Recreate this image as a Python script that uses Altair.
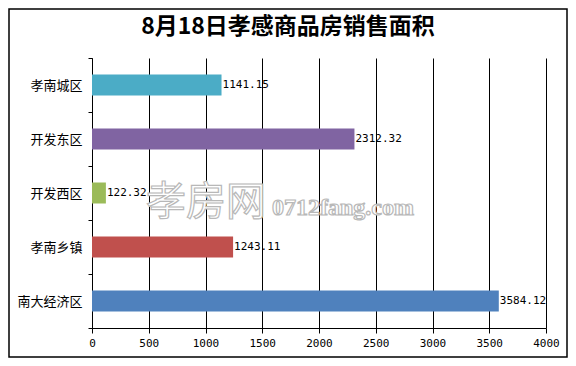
import altair as alt
import pandas as pd

categories = ["孝南城区", "开发东区", "开发西区", "孝南乡镇", "南大经济区"]
values = [1141.15, 2312.32, 122.32, 1243.11, 3584.12]
labels = ["1141.15", "2312.32", "122.32", "1243.11", "3584.12"]
colors = ["#4BACC6", "#8064A2", "#9BBB59", "#C0504D", "#4F81BD"]
x_ticks = [0, 500, 1000, 1500, 2000, 2500, 3000, 3500, 4000]
title_text = "8月18日孝感商品房销售面积"
watermark_cn = "孝房网"
watermark_en = "0712fang.com"

df = pd.DataFrame({"cat": categories, "val": values, "label": labels, "color": colors})

W, H = 454, 270
PL, PT, PR, PB = 84, 50, 22, 30

y_enc = alt.Y(
    "cat:N",
    sort=categories,
    title=None,
    scale=alt.Scale(paddingInner=0, paddingOuter=0),
    axis=alt.Axis(
        tickBand="extent",
        domainColor="black",
        tickColor="black",
        tickSize=4,
        labelFont="Noto Sans CJK SC",
        labelFontSize=13,
        labelColor="black",
        labelPadding=6,
        grid=False,
    ),
)
x_enc = alt.X(
    "val:Q",
    title=None,
    scale=alt.Scale(domain=[0, 4000], nice=False),
    axis=alt.Axis(
        values=x_ticks,
        format="d",
        labelFlush=False,
        labelOverlap=False,
        grid=True,
        gridColor="black",
        gridOpacity=1,
        domainColor="black",
        tickColor="black",
        tickSize=5,
        labelFont="DejaVu Sans Mono",
        labelFontSize=11,
        labelColor="black",
        labelPadding=4,
    ),
)

base = alt.Chart(df)
bars = base.mark_bar(size=21).encode(
    x=x_enc,
    y=y_enc,
    color=alt.Color("color:N", scale=None),
)
texts = base.mark_text(
    align="left", baseline="middle", dx=1, font="DejaVu Sans Mono", fontSize=11, color="black"
).encode(x="val:Q", y=alt.Y("cat:N", sort=categories), text="label:N")

wm1 = alt.Chart(pd.DataFrame({"t": [watermark_cn]})).mark_text(
    align="center", baseline="middle", font="Noto Sans CJK SC", fontSize=40,
    fill="white", stroke="#b8b8b8", strokeWidth=1.2
).encode(x=alt.value(114), y=alt.value(145), text="t:N")
wm2 = alt.Chart(pd.DataFrame({"t": [watermark_en]})).mark_text(
    align="left", baseline="middle", font="Liberation Serif", fontSize=24, fontWeight="bold",
    fill="white", stroke="#b8b8b8", strokeWidth=1.2
).encode(x=alt.value(180), y=alt.value(150), text="t:N")

title = alt.Chart(pd.DataFrame({"t": [title_text]})).mark_text(
    align="center", baseline="middle", font="Noto Sans CJK SC", fontSize=23, fontWeight="bold",
    color="black"
).encode(x=alt.value(196), y=alt.value(-31), text="t:N")

border = alt.Chart(pd.DataFrame({"a": [0]})).mark_rect(
    fill="transparent", stroke="black", strokeWidth=1.5
).encode(
    x=alt.value(-PL + 1), x2=alt.value(W + PR - 1),
    y=alt.value(-PT + 1), y2=alt.value(H + PB - 1),
)

chart = alt.layer(bars, texts, wm1, wm2, title, border).properties(
    width=W,
    height=H,
    padding={"left": PL, "top": PT, "right": PR, "bottom": PB},
    autosize=alt.AutoSizeParams(type="none"),
    background="white",
).configure_view(stroke="transparent")

chart.save("out.html", embed_options={"renderer": "svg", "actions": False})
